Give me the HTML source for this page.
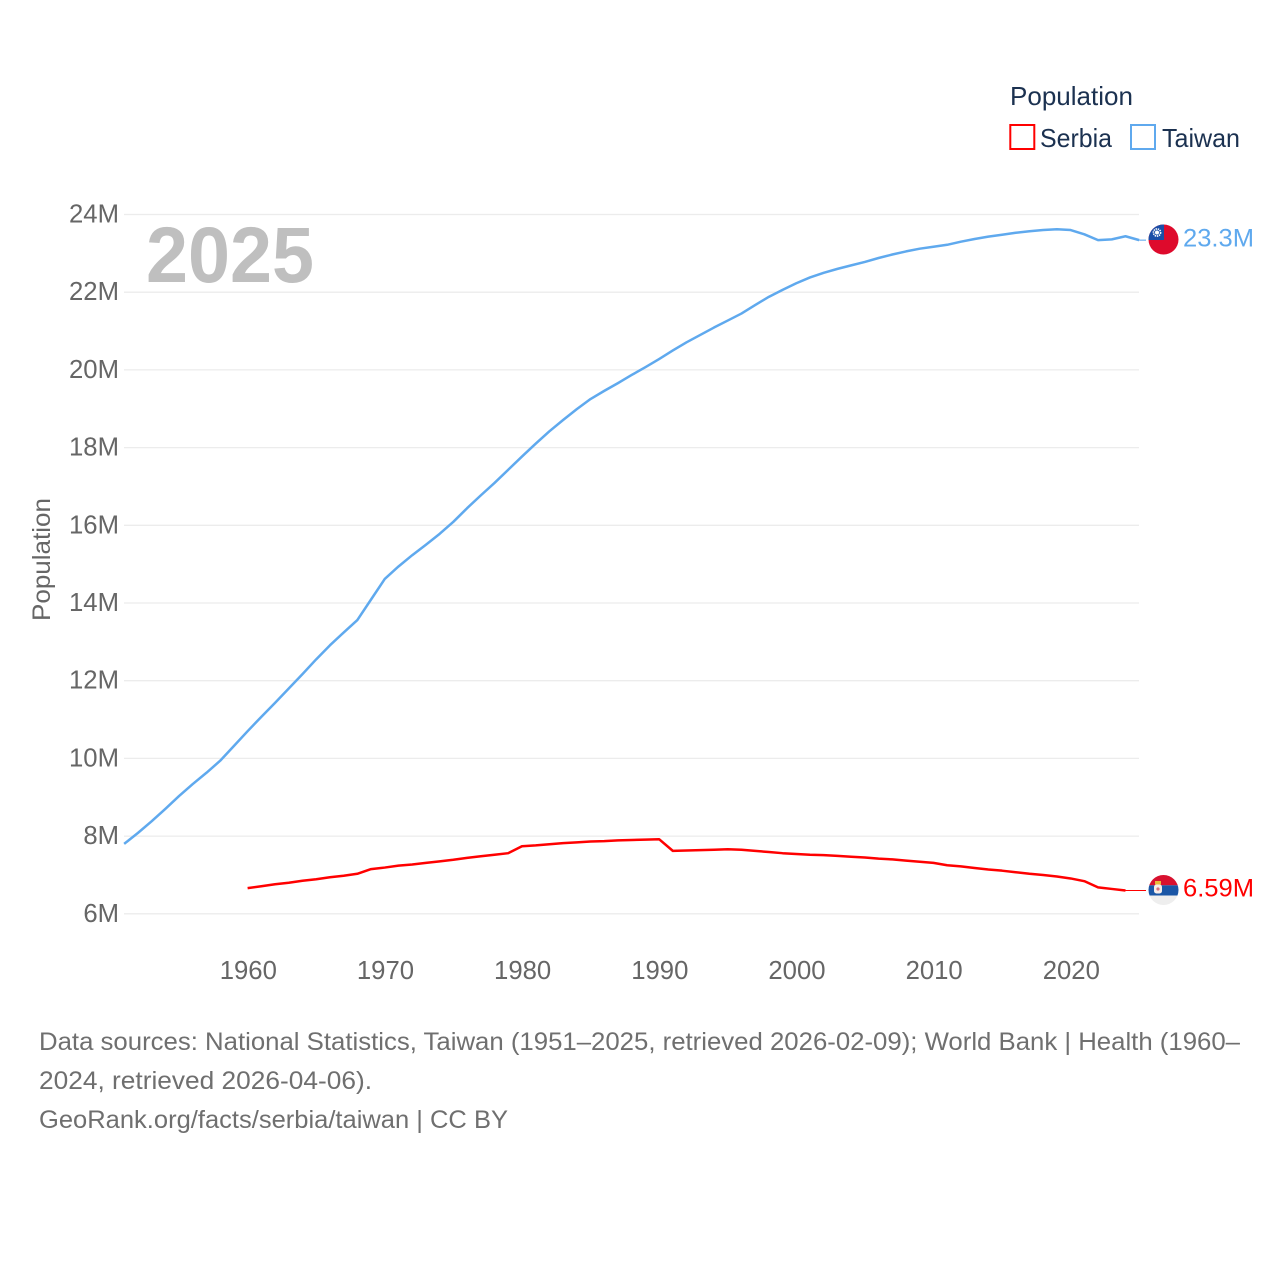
<!DOCTYPE html>
<html lang="en">
<head>
<meta charset="utf-8">
<title>Population: Serbia and Taiwan</title>
<style>
html,body{margin:0;padding:0;background:#fff;}
svg{display:block;font-family:"Liberation Sans",sans-serif;}
</style>
</head>
<body>
<svg id="chart" xmlns="http://www.w3.org/2000/svg" width="1280" height="1280" viewBox="0 0 1280 1280">
  <rect width="1280" height="1280" fill="#fff"/>
  <g id="grid"></g>
  <g id="yticks"></g>
  <g id="xticks"></g>
  <text x="146" y="282" font-size="79" font-weight="700" fill="#bfbfbf" textLength="168" lengthAdjust="spacingAndGlyphs">2025</text>
  <text transform="translate(50,621) rotate(-90)" font-size="25" fill="#666" textLength="123" lengthAdjust="spacingAndGlyphs">Population</text>
  <g id="series"></g>

  <g>
    <text x="1010" y="105" font-size="26" fill="#1b3150" textLength="123" lengthAdjust="spacingAndGlyphs">Population</text>
    <rect x="1010.3" y="125" width="24" height="24" fill="#fff" stroke="#ff0000" stroke-width="2"/>
    <text x="1040" y="147" font-size="26" fill="#1b3150" textLength="72" lengthAdjust="spacingAndGlyphs">Serbia</text>
    <rect x="1131" y="125" width="24" height="24" fill="#fff" stroke="#5fa9ee" stroke-width="2"/>
    <text x="1162" y="147" font-size="26" fill="#1b3150" textLength="78" lengthAdjust="spacingAndGlyphs">Taiwan</text>
  </g>

  <defs>
    <clipPath id="clip-tw"><circle cx="1163.5" cy="239.5" r="15"/></clipPath>
    <clipPath id="clip-rs"><circle cx="1163.5" cy="890" r="15"/></clipPath>
  </defs>
  <g clip-path="url(#clip-tw)">
    <rect x="1148" y="224" width="31" height="32" fill="#de0a2c"/>
    <rect x="1148" y="224" width="16" height="16" fill="#1a4fa8"/>
    <circle cx="1157" cy="232.5" r="3.6" fill="none" stroke="#fff" stroke-width="1.6" stroke-dasharray="1.4 0.8"/>
    <circle cx="1157" cy="232.5" r="2" fill="#fff"/>
  </g>
  <g clip-path="url(#clip-rs)">
    <rect x="1148" y="875" width="31" height="10.3" fill="#d8112f"/>
    <rect x="1148" y="885.3" width="31" height="10.2" fill="#1a56a6"/>
    <rect x="1148" y="895.5" width="31" height="10" fill="#eeeeee"/>
    <rect x="1155" y="881" width="6" height="3.5" fill="#e8b93a"/>
    <rect x="1154" y="884.5" width="8" height="9" rx="2.5" fill="#f6ece8"/>
    <circle cx="1158" cy="889" r="1.6" fill="#d9707c"/>
  </g>

  <text x="1183" y="246.5" font-size="25" fill="#5fa9ee" textLength="71" lengthAdjust="spacingAndGlyphs">23.3M</text>
  <text x="1183" y="896.5" font-size="25" fill="#ff0000" textLength="71" lengthAdjust="spacingAndGlyphs">6.59M</text>

  <g font-size="25" fill="#6f6f6f">
    <text x="39" y="1050" textLength="1201" lengthAdjust="spacingAndGlyphs">Data sources: National Statistics, Taiwan (1951–2025, retrieved 2026-02-09); World Bank | Health (1960–</text>
    <text x="39" y="1089" textLength="333" lengthAdjust="spacingAndGlyphs">2024, retrieved 2026-04-06).</text>
    <text x="39" y="1128" textLength="469" lengthAdjust="spacingAndGlyphs">GeoRank.org/facts/serbia/taiwan | CC BY</text>
  </g>
</svg>
<script>
const yTickValues = [6, 8, 10, 12, 14, 16, 18, 20, 22, 24];
const yTickLabels = ["6M", "8M", "10M", "12M", "14M", "16M", "18M", "20M", "22M", "24M"];
const xTickYears = [1960, 1970, 1980, 1990, 2000, 2010, 2020];
const taiwanStartYear = 1951;
const taiwanValues = [
  7.80, 8.08, 8.38, 8.70, 9.03, 9.34, 9.63, 9.94, 10.32, 10.70,
  11.07, 11.43, 11.80, 12.17, 12.55, 12.91, 13.24, 13.56, 14.09, 14.62,
  14.94, 15.23, 15.50, 15.78, 16.09, 16.44, 16.77, 17.09, 17.43, 17.77,
  18.10, 18.42, 18.71, 18.99, 19.25, 19.46, 19.66, 19.87, 20.07, 20.28,
  20.50, 20.71, 20.90, 21.09, 21.27, 21.45, 21.67, 21.88, 22.06, 22.23,
  22.38, 22.50, 22.60, 22.69, 22.78, 22.88, 22.97, 23.05, 23.12, 23.17,
  23.22, 23.30, 23.37, 23.43, 23.48, 23.53, 23.57, 23.60, 23.62, 23.60,
  23.49, 23.34, 23.36, 23.44, 23.34
];
const serbiaStartYear = 1960;
const serbiaValues = [
  6.66, 6.71, 6.76, 6.80, 6.85, 6.89, 6.94, 6.98, 7.03, 7.15,
  7.19, 7.24, 7.27, 7.31, 7.35, 7.39, 7.44, 7.48, 7.52, 7.56,
  7.74, 7.76, 7.79, 7.82, 7.84, 7.86, 7.87, 7.89, 7.90, 7.91,
  7.92, 7.62, 7.63, 7.64, 7.65, 7.66, 7.65, 7.62, 7.59, 7.56,
  7.54, 7.52, 7.51, 7.49, 7.47, 7.45, 7.42, 7.40, 7.37, 7.34,
  7.31, 7.25, 7.22, 7.18, 7.14, 7.11, 7.07, 7.03, 7.00, 6.96,
  6.91, 6.84, 6.68, 6.64, 6.60
];

const SVG_NS = "http://www.w3.org/2000/svg";
function xScale(year) { return 247.6 + (year - 1960) * 13.717; }
function yScale(v) { return 913.8 - (v - 6) * 38.85; }
function linePoints(startYear, values) {
  return values.map(function (v, i) {
    return xScale(startYear + i).toFixed(2) + "," + yScale(v).toFixed(2);
  }).join(" ");
}

const grid = document.getElementById("grid");
const yticks = document.getElementById("yticks");
yTickValues.forEach(function (v, i) {
  const line = document.createElementNS(SVG_NS, "line");
  
  
  line.setAttribute("x1", 124);
  line.setAttribute("x2", 1139);
  line.setAttribute("y1", yScale(v));
  line.setAttribute("y2", yScale(v));
  line.setAttribute("stroke", "#ececec");
  line.setAttribute("stroke-width", 1.3);
  grid.appendChild(line);

  const label = document.createElementNS(SVG_NS, "text");
  
  
  label.setAttribute("x", 119);
  label.setAttribute("y", yScale(v) + 8);
  label.setAttribute("text-anchor", "end");
  label.setAttribute("font-size", 25.7);
  label.setAttribute("fill", "#666");
  label.textContent = yTickLabels[i];
  yticks.appendChild(label);
});

const xticks = document.getElementById("xticks");
xTickYears.forEach(function (year) {
  const label = document.createElementNS(SVG_NS, "text");
  
  
  label.setAttribute("x", xScale(year) + 0.7);
  label.setAttribute("y", 979);
  label.setAttribute("text-anchor", "middle");
  label.setAttribute("font-size", 25.7);
  label.setAttribute("fill", "#666");
  label.textContent = String(year);
  xticks.appendChild(label);
});

const series = document.getElementById("series");

const serbiaLine = document.createElementNS(SVG_NS, "polyline");


serbiaLine.setAttribute("points", linePoints(serbiaStartYear, serbiaValues));
serbiaLine.setAttribute("fill", "none");
serbiaLine.setAttribute("stroke", "#ff0000");
serbiaLine.setAttribute("stroke-width", 2.5);
serbiaLine.setAttribute("stroke-linejoin", "round");
series.appendChild(serbiaLine);

const serbiaLeader = document.createElementNS(SVG_NS, "line");


serbiaLeader.setAttribute("x1", xScale(serbiaStartYear + serbiaValues.length - 1));
serbiaLeader.setAttribute("y1", yScale(serbiaValues[serbiaValues.length - 1]));
serbiaLeader.setAttribute("x2", 1146);
serbiaLeader.setAttribute("y2", yScale(serbiaValues[serbiaValues.length - 1]));
serbiaLeader.setAttribute("stroke", "#ff0000");
serbiaLeader.setAttribute("stroke-width", 1.1);
series.appendChild(serbiaLeader);

const taiwanLine = document.createElementNS(SVG_NS, "polyline");


taiwanLine.setAttribute("points", linePoints(taiwanStartYear, taiwanValues));
taiwanLine.setAttribute("fill", "none");
taiwanLine.setAttribute("stroke", "#5fa9ee");
taiwanLine.setAttribute("stroke-width", 2.5);
taiwanLine.setAttribute("stroke-linejoin", "round");
series.appendChild(taiwanLine);

const taiwanLeader = document.createElementNS(SVG_NS, "line");


taiwanLeader.setAttribute("x1", xScale(taiwanStartYear + taiwanValues.length - 1));
taiwanLeader.setAttribute("y1", yScale(taiwanValues[taiwanValues.length - 1]));
taiwanLeader.setAttribute("x2", 1146);
taiwanLeader.setAttribute("y2", yScale(taiwanValues[taiwanValues.length - 1]));
taiwanLeader.setAttribute("stroke", "#5fa9ee");
taiwanLeader.setAttribute("stroke-width", 1.1);
series.appendChild(taiwanLeader);
</script>
</body>
</html>
